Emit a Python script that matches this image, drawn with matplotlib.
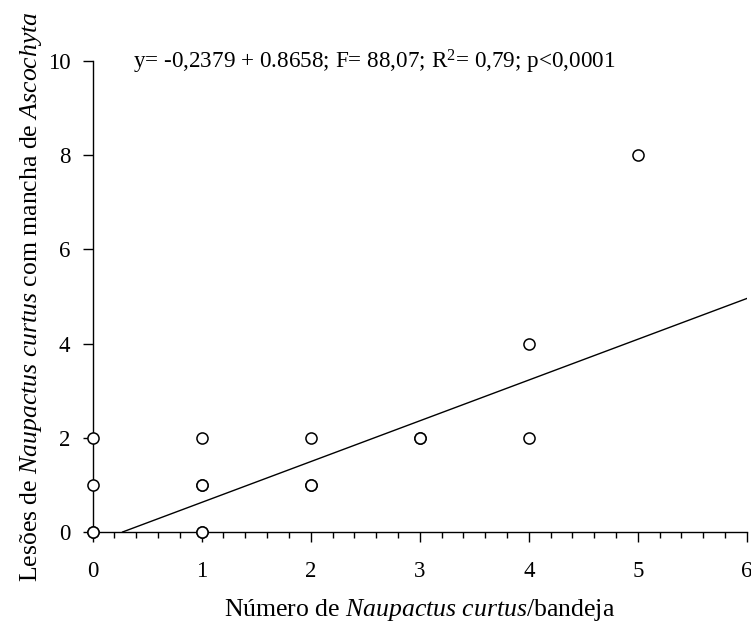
import matplotlib
matplotlib.use("Agg")
from matplotlib import pyplot as plt
from matplotlib.ticker import MultipleLocator
import numpy as np

plt.rcParams["font.family"] = "Liberation Serif"
plt.rcParams["mathtext.fontset"] = "custom"
plt.rcParams["mathtext.rm"] = "Liberation Serif"
plt.rcParams["mathtext.it"] = "Liberation Serif:italic"

# observed points (insects per tray vs lesions); repeated pairs drawn twice
insects = [0, 0, 0, 0, 1, 1, 1, 1, 1, 2, 2, 2, 3, 3, 4, 4, 5]
lesions = [0, 0, 1, 2, 0, 0, 1, 1, 2, 1, 1, 2, 2, 2, 2, 4, 8]

# fitted regression
intercept = -0.2379
slope = 0.8658

fig = plt.figure(figsize=(7.51, 6.26), dpi=100)
ax = fig.add_axes([0.1234, 0.1502, 0.871, 0.7524])

x0 = -intercept / slope
xs = np.array([x0, 6])
ax.plot(xs, intercept + slope * xs, color="black", linewidth=1)
ax.plot(insects, lesions, "o", markersize=8, markerfacecolor="white",
        markeredgecolor="black", markeredgewidth=1.1, clip_on=False, zorder=3)

ax.set_xlim(0, 6)
ax.set_ylim(0, 10)
ax.xaxis.set_major_locator(MultipleLocator(1))
ax.xaxis.set_minor_locator(MultipleLocator(0.2))
ax.yaxis.set_major_locator(MultipleLocator(2))

for side in ["top", "right"]:
    ax.spines[side].set_visible(False)
ax.spines["left"].set_linewidth(1)
ax.spines["bottom"].set_linewidth(1)

ax.tick_params(axis="both", which="major", direction="out", length=7, width=1,
               labelsize=16.5)
ax.tick_params(axis="x", which="major", pad=14)
ax.tick_params(axis="y", which="major", pad=9)
ax.tick_params(axis="x", which="minor", direction="out", length=4, width=1)

ax.set_xlabel(r"Número de $\mathit{Naupactus\ curtus}$/bandeja", fontsize=18.5, labelpad=11)
ax.set_ylabel(r"Lesões de $\mathit{Naupactus\ curtus}$ com mancha de $\mathit{Ascochyta}$",
              fontsize=18.5, labelpad=3)

ax.text(0.37, 9.83, r"y= -0,2379 + 0.8658; F= 88,07; R$^{2}$= 0,79; p<0,0001",
        fontsize=16.7, va="baseline", ha="left")

fig.savefig("out.png", dpi=100)
